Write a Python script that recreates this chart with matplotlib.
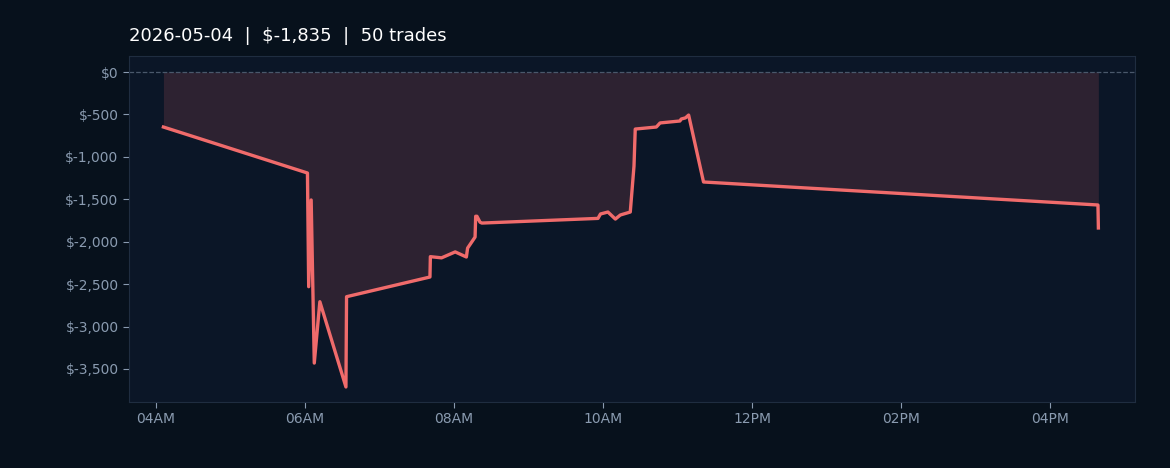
import matplotlib
matplotlib.use("Agg")
import matplotlib.pyplot as plt
import matplotlib.dates as mdates
import pandas as pd
from matplotlib.ticker import FuncFormatter

DAY = "2026-05-04"
times = [
    "04:06:00", "06:02:00", "06:03:00", "06:05:00", "06:07:30", "06:12:00",
    "06:33:00", "06:33:30", "07:40:40", "07:41:00", "07:50:00", "08:01:00",
    "08:10:00", "08:11:00", "08:17:00", "08:17:30", "08:18:30", "08:21:00",
    "08:22:30", "09:56:00", "09:58:00", "10:04:00", "10:10:00", "10:14:00",
    "10:22:00", "10:25:00", "10:26:00", "10:43:00", "10:46:00", "11:02:00",
    "11:03:00", "11:06:30", "11:09:00", "11:21:00", "16:38:40", "16:39:00",
]
pnl = [
    -648, -1190, -2530, -1508, -3430, -2707,
    -3712, -2648, -2416, -2176, -2190, -2120,
    -2180, -2075, -1945, -1700, -1700, -1770,
    -1780, -1725, -1673, -1650, -1733, -1685,
    -1650, -1108, -672, -648, -600, -577,
    -554, -540, -507, -1296, -1567, -1838,
]
TITLE = "2026-05-04  |  $-1,835  |  50 trades"

FIG_BG = "#07111c"
AX_BG = "#0b1627"
LINE = "#f06b6b"
TICK = "#8a9bb0"

t = pd.to_datetime([f"{DAY} {s}" for s in times])

fig = plt.figure(figsize=(11.7, 4.68), dpi=100, facecolor=FIG_BG)
ax = fig.add_axes([129 / 1170, 1 - 402 / 468, (1135 - 129) / 1170, (402 - 56) / 468])
ax.set_facecolor(AX_BG)

ax.fill_between(t, pnl, 0, color=LINE, alpha=0.15, linewidth=0)
ax.plot(t, pnl, color=LINE, linewidth=2.4)
ax.axhline(0, color="#4a586b", linestyle="--", linewidth=0.9)

ax.set_xlim(pd.Timestamp(f"{DAY} 03:38:17"), pd.Timestamp(f"{DAY} 17:08:30"))
ax.set_ylim(-3889, 189)
ax.set_yticks([0, -500, -1000, -1500, -2000, -2500, -3000, -3500])
ax.yaxis.set_major_formatter(FuncFormatter(lambda v, _: "$0" if v == 0 else f"$-{abs(v):,.0f}"))
ax.xaxis.set_major_locator(mdates.HourLocator(byhour=range(0, 24, 2)))
ax.xaxis.set_major_formatter(mdates.DateFormatter("%I%p"))

ax.tick_params(colors=TICK, labelsize=10, length=4)
for spine in ax.spines.values():
    spine.set_color("#1f2d40")

fig.text(129 / 1170, 1 - 36 / 468, TITLE, color="white", fontsize=13, va="center", ha="left")

fig.savefig("out.png", facecolor=FIG_BG)
